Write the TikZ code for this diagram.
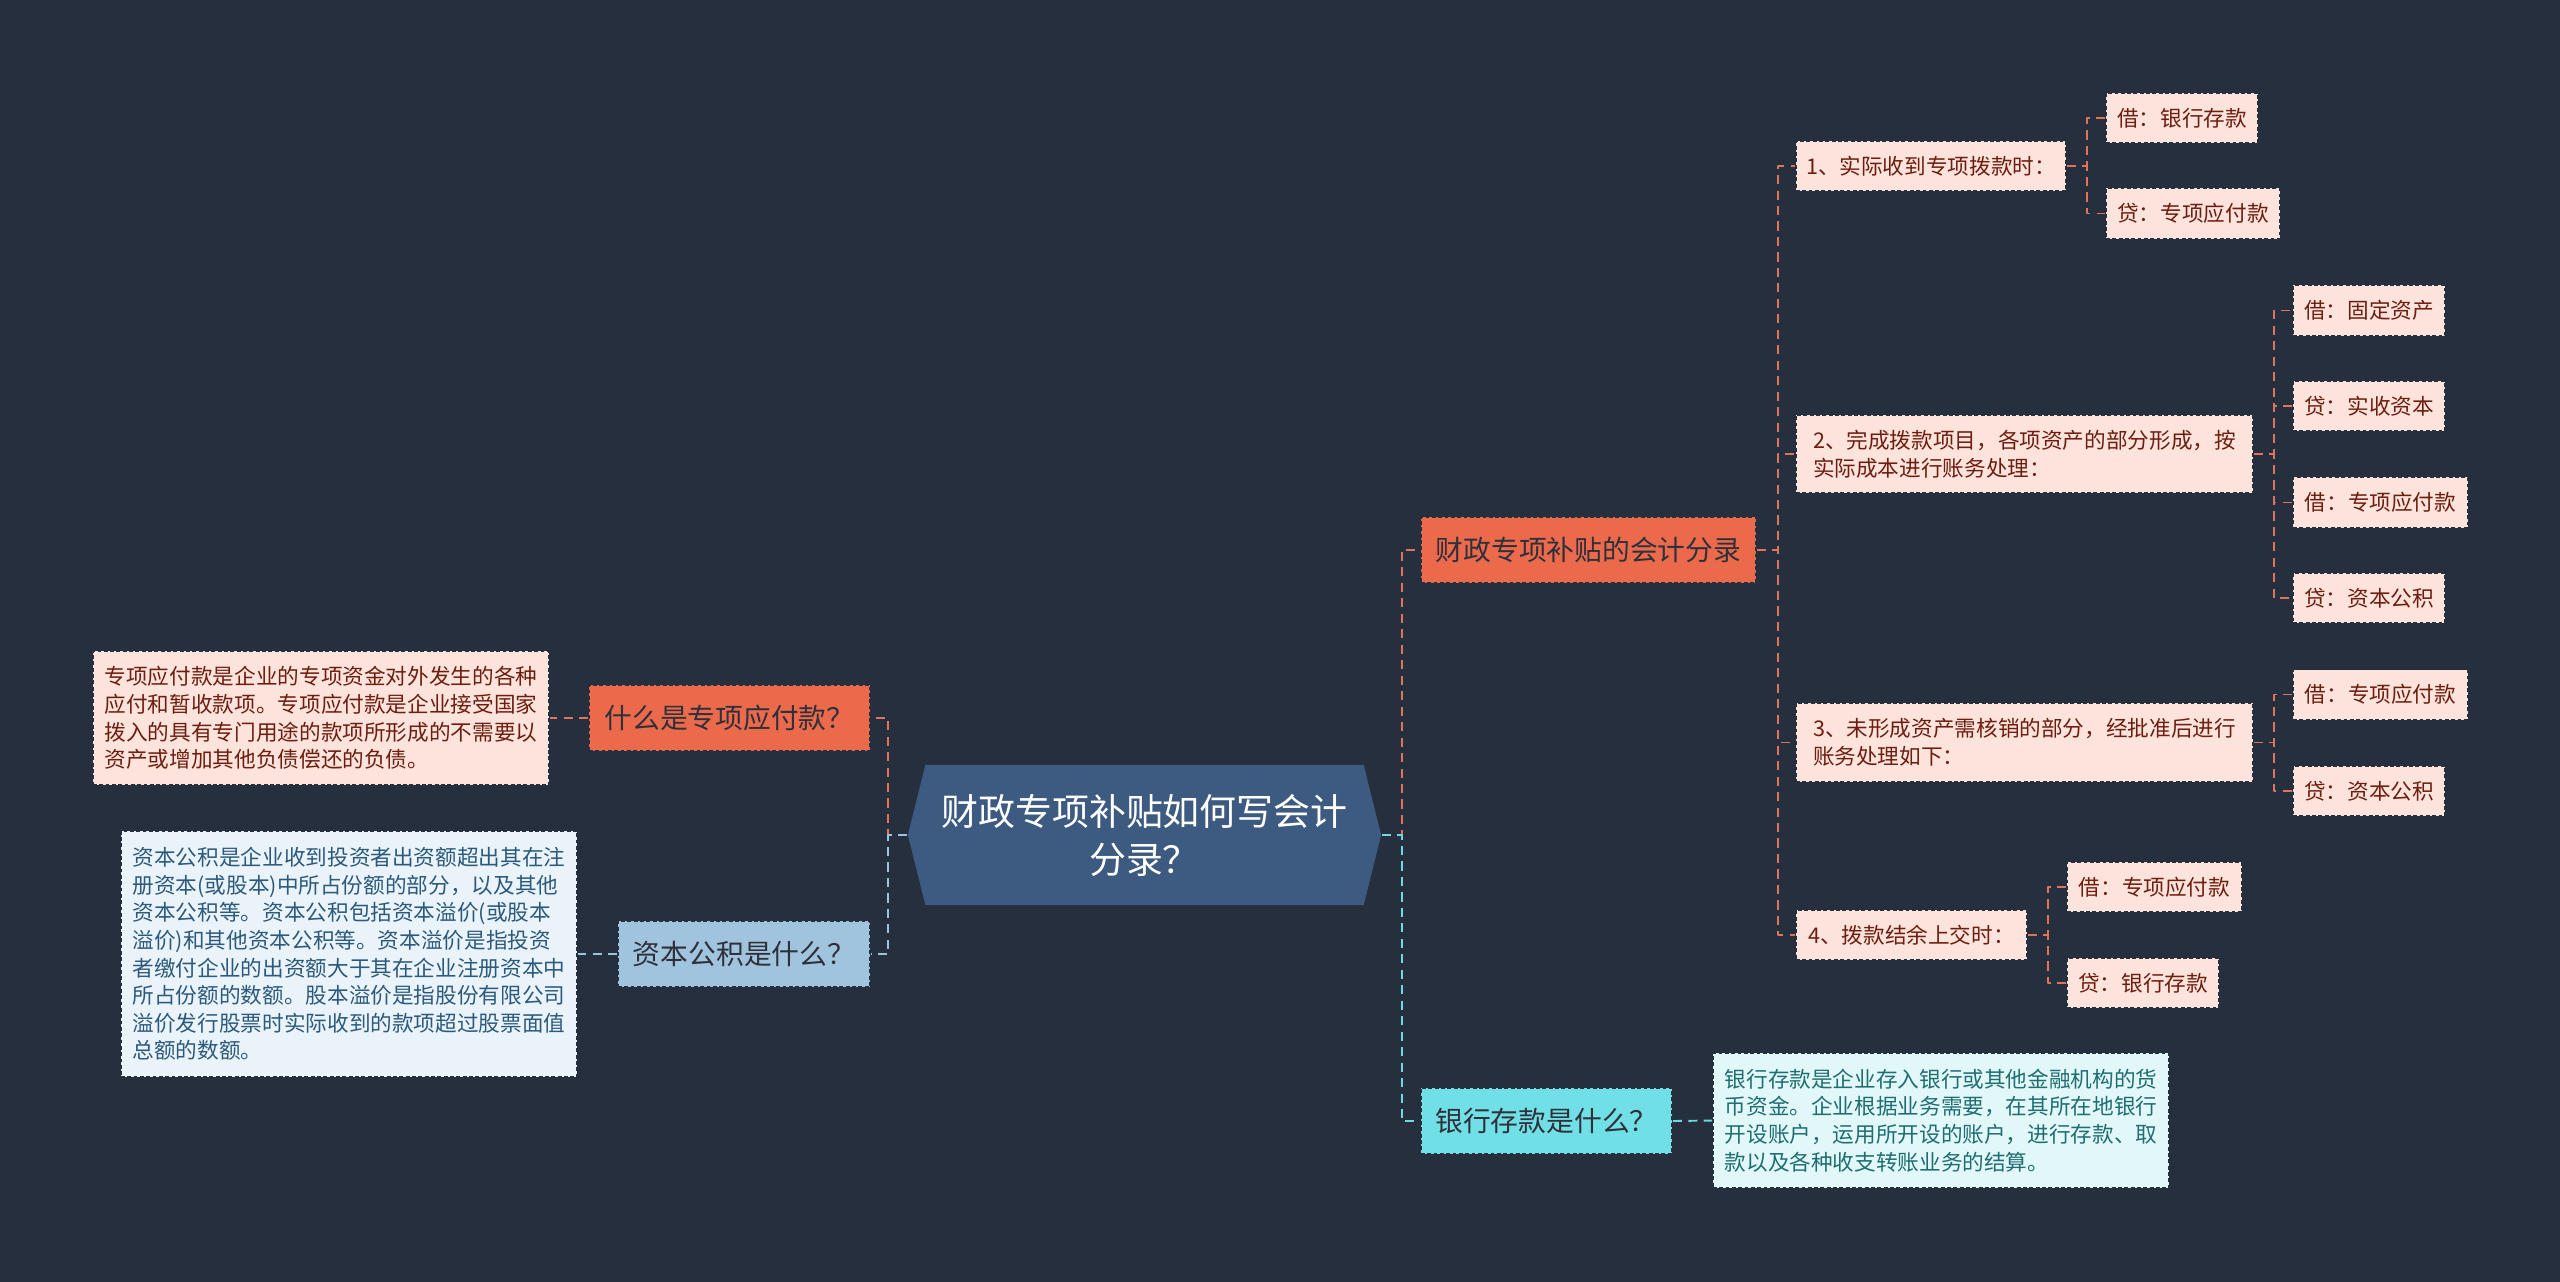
\documentclass[tikz,border=0pt]{standalone}
\usepackage{fontspec}
\setmainfont{Noto Sans CJK SC}
\usetikzlibrary{shapes.symbols}
\definecolor{bgnavy}{HTML}{262F3D}
\definecolor{rootfill}{HTML}{3D5A80}
\definecolor{redfill}{HTML}{EC6A4C}
\definecolor{bluefill}{HTML}{A0C4DE}
\definecolor{cyanfill}{HTML}{70E0E6}
\definecolor{pinkfill}{HTML}{FCE4DC}
\definecolor{pinktext}{HTML}{6E1E10}
\definecolor{paleblue}{HTML}{EAF3F9}
\definecolor{paleblutext}{HTML}{2C5A7C}
\definecolor{palecyan}{HTML}{E2F7F8}
\definecolor{palecyantext}{HTML}{1E6E72}
\definecolor{labeltext}{HTML}{30303A}
\definecolor{lnredc}{HTML}{E0735A}
\definecolor{lnbluec}{HTML}{9DC3DF}
\definecolor{lncyanc}{HTML}{6ED9E0}
\newcommand\boxfont{\fontsize{6.15pt}{7.85pt}\selectfont}
\newcommand\labelfont{\fontsize{7.9pt}{9.5pt}\selectfont}
\newcommand\rootfont{\fontsize{10.5pt}{13.66pt}\selectfont}
\begin{document}
\begin{tikzpicture}[x=0.01cm, y=-0.01cm, line join=round]
	\tikzset{box/.style={rectangle, draw=bgnavy, line width=0.4pt, dash pattern=on 1.1pt off 0.7pt, inner sep=0pt, align=left},
		leaf/.style={box, fill=pinkfill, text=pinktext, font=\boxfont, minimum height=0.5cm},
		topic/.style={box, text=labeltext, font=\labelfont, minimum height=0.66cm},
		lnred/.style={draw=lnredc, line width=0.55pt, dash pattern=on 2.6pt off 1.8pt},
		lnblue/.style={lnred, draw=lnbluec},
		lncyan/.style={lnred, draw=lncyanc}}
	\useasboundingbox (0,0) rectangle (2560,1281);
	\fill[bgnavy] (-20,-20) rectangle (2580,1301);
	% centre
	\node[signal, signal to=west and east, signal pointer angle=152, fill=rootfill, text=white, font=\rootfont, align=center,
		minimum width=4.73cm, minimum height=1.40cm, inner sep=0pt] (root) at (1144.5,835) {财政专项补贴如何写会计\\分录？};
	% left side
	\node[topic, fill=redfill, minimum width=2.81cm] (yfk) at (729.5,718) {什么是专项应付款？};
	\node[box, fill=pinkfill, text=pinktext, font=\boxfont, minimum width=4.56cm, minimum height=1.34cm] (yfkd) at (321,718)
		{专项应付款是企业的专项资金对外发生的各种\\应付和暂收款项。专项应付款是企业接受国家\\拨入的具有专门用途的款项所形成的不需要以\\资产或增加其他负债偿还的负债。};
	\node[topic, fill=bluefill, minimum width=2.52cm] (zbgj) at (744,954) {资本公积是什么？};
	\node[box, fill=paleblue, text=paleblutext, font=\boxfont, minimum width=4.56cm, minimum height=2.46cm] (zbgjd) at (349,954)
		{资本公积是企业收到投资者出资额超出其在注\\册资本(或股本)中所占份额的部分，以及其他\\资本公积等。资本公积包括资本溢价(或股本\\溢价)和其他资本公积等。资本溢价是指投资\\者缴付企业的出资额大于其在企业注册资本中\\所占份额的数额。股本溢价是指股份有限公司\\溢价发行股票时实际收到的款项超过股票面值\\总额的数额。};
	% right side
	\node[topic, fill=redfill, minimum width=3.35cm] (fl) at (1588.5,550) {财政专项补贴的会计分录};
	\node[leaf, minimum width=2.70cm] (st1) at (1931,166) {1、实际收到专项拨款时：};
	\node[leaf, minimum width=4.57cm, minimum height=0.78cm] (st2) at (2024.5,454) {2、完成拨款项目，各项资产的部分形成，按\\实际成本进行账务处理：};
	\node[leaf, minimum width=4.57cm, minimum height=0.79cm] (st3) at (2024.5,742.5) {3、未形成资产需核销的部分，经批准后进行\\账务处理如下：};
	\node[leaf, minimum width=2.31cm] (st4) at (1911.5,935) {4、拨款结余上交时：};
	\node[leaf, minimum width=1.52cm] (e11) at (2182,118) {借：银行存款};
	\node[leaf, minimum width=1.74cm] (e12) at (2193,213.5) {贷：专项应付款};
	\node[leaf, minimum width=1.52cm] (e21) at (2369,310.5) {借：固定资产};
	\node[leaf, minimum width=1.52cm] (e22) at (2369,406) {贷：实收资本};
	\node[leaf, minimum width=1.75cm] (e23) at (2380.5,502.5) {借：专项应付款};
	\node[leaf, minimum width=1.52cm] (e24) at (2369,598) {贷：资本公积};
	\node[leaf, minimum width=1.75cm] (e31) at (2380.5,694.5) {借：专项应付款};
	\node[leaf, minimum width=1.52cm] (e32) at (2369,791) {贷：资本公积};
	\node[leaf, minimum width=1.75cm] (e41) at (2154.5,887) {借：专项应付款};
	\node[leaf, minimum width=1.52cm] (e42) at (2143,983) {贷：银行存款};
	\node[topic, fill=cyanfill, minimum width=2.51cm] (yhck) at (1546.5,1121) {银行存款是什么？};
	\node[box, fill=palecyan, text=palecyantext, font=\boxfont, minimum width=4.56cm, minimum height=1.35cm] (yhckd) at (1941,1120.5)
		{银行存款是企业存入银行或其他金融机构的货\\币资金。企业根据业务需要，在其所在地银行\\开设账户，运用所开设的账户，进行存款、取\\款以及各种收支转账业务的结算。};
	% connectors
	\draw[lnred] (root.west) -- ++(-19,0) |- (yfk.east);
	\draw[lnblue] (root.west) -- ++(-19,0) |- (zbgj.east);
	\draw[lnred] (yfk.west) -- (yfkd.east);
	\draw[lnblue] (zbgj.west) -- (zbgjd.east);
	\draw[lnred] (root.east) -- ++(20,0) |- (fl.west);
	\draw[lncyan] (root.east) -- ++(20,0) |- (yhck.west);
	\draw[lncyan] (yhck.east) -- (yhckd.west);
	\foreach \s in {st1,st2,st3,st4}
		\draw[lnred] (fl.east) -- ++(21,0) |- (\s.west);
	\foreach \s/\e in {st1/e11,st1/e12,st2/e21,st2/e22,st2/e23,st2/e24,st3/e31,st3/e32,st4/e41,st4/e42}
		\draw[lnred] (\s.east) -- ++(20,0) |- (\e.west);
\end{tikzpicture}
\end{document}
